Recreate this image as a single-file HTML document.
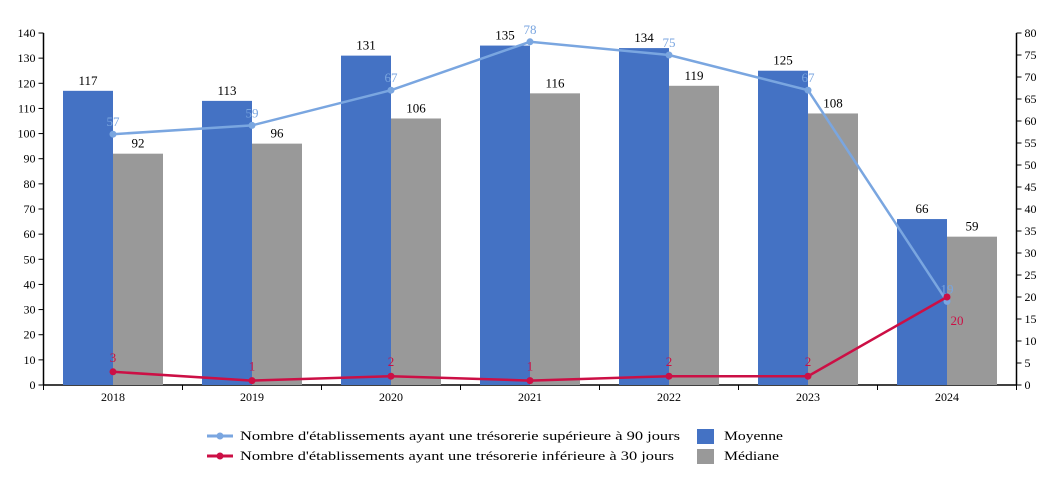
<!DOCTYPE html>
<html><head><meta charset="utf-8"><style>
body{margin:0;background:#fff;width:1056px;height:476px;overflow:hidden}
svg{font-family:"Liberation Serif",serif;font-size:12px}
</style></head><body>
<svg id="chart" width="1056" height="476" xmlns="http://www.w3.org/2000/svg"></svg>
<script>
const years=["2018","2019","2020","2021","2022","2023","2024"];
const moyenne=[117,113,131,135,134,125,66];
const mediane=[92,96,106,116,119,108,59];
const sup90=[57,59,67,78,75,67,19];
const inf30=[3,1,2,1,2,2,20];
const leftTicks=[0,10,20,30,40,50,60,70,80,90,100,110,120,130,140];
const rightTicks=[0,5,10,15,20,25,30,35,40,45,50,55,60,65,70,75,80];

const svg=document.getElementById('chart');
const NS="http://www.w3.org/2000/svg";
const X0=43.5,X1=1016.5,Y0=385,Y1=33;
const band=(X1-X0)/years.length;
const xc=i=>X0+band*(i+0.5);
const yL=v=>Y0-(v/140)*(Y0-Y1);
const yR=v=>Y0-(v/80)*(Y0-Y1);
function mk(tag,attrs,parent){const e=document.createElementNS(NS,tag);for(const k in attrs)e.setAttribute(k,attrs[k]);(parent||svg).appendChild(e);return e;}
function txt(s,attrs,parent){const e=mk('text',attrs,parent);e.textContent=s;return e;}

const axL=mk('g',{});


mk('line',{x1:X0,y1:Y1,x2:X0,y2:Y0,stroke:'#000','stroke-width':1.5},axL);
leftTicks.forEach(t=>{mk('line',{x1:X0-5,x2:X0,y1:yL(t),y2:yL(t),stroke:'#000'},axL);
 const l=txt(String(t),{x:X0-8,y:yL(t)+4,'text-anchor':'end'},axL);
 
 });
const axR=mk('g',{});


mk('line',{x1:X1,y1:Y1,x2:X1,y2:Y0,stroke:'#000','stroke-width':1.5},axR);
rightTicks.forEach(t=>{mk('line',{x1:X1,x2:X1+5,y1:yR(t),y2:yR(t),stroke:'#000'},axR);
 const l=txt(String(t),{x:X1+8,y:yR(t)+4},axR);
 
 });
const axX=mk('g',{});


mk('line',{x1:X0,y1:Y0,x2:X1,y2:Y0,stroke:'#000','stroke-width':1.5},axX);
for(let i=0;i<=years.length;i++)mk('line',{x1:X0+band*i,x2:X0+band*i,y1:Y0,y2:Y0+5,stroke:'#000'},axX);
years.forEach((y,i)=>{const l=txt(y,{x:xc(i),y:Y0+16,'text-anchor':'middle'},axX);
 
 });

const bw=50;
years.forEach((y,i)=>{
 const b1=mk('rect',{x:xc(i)-bw,y:yL(moyenne[i]),width:bw,height:Y0-yL(moyenne[i]),fill:'#4472c4'});
 
 
 const b2=mk('rect',{x:xc(i),y:yL(mediane[i]),width:bw,height:Y0-yL(mediane[i]),fill:'#999999'});
 
 
 const l1=txt(String(moyenne[i]),{x:xc(i)-bw/2,y:yL(moyenne[i])-6,'text-anchor':'middle','font-size':13});
 
 
 const l2=txt(String(mediane[i]),{x:xc(i)+bw/2,y:yL(mediane[i])-6,'text-anchor':'middle','font-size':13});
 
 
});

function line(data,color,name,labelDy){
 const p=mk('polyline',{points:data.map((v,i)=>xc(i)+','+yR(v)).join(' '),fill:'none',stroke:color,'stroke-width':2.5});
 
 
 data.forEach((v,i)=>{
  const c=mk('circle',{cx:xc(i),cy:yR(v),r:3.5,fill:color});
  
  
  const last=(i===data.length-1&&name==='inf30');
  const l=txt(String(v),{x:xc(i)+(last?10:0),y:yR(v)+(last?28:labelDy),'text-anchor':'middle',fill:color,'font-size':13});
  
  
 });
}
line(sup90,'#7aa6e0','sup90',-8);
line(inf30,'#cc0f45','inf30',-10);

const lg=mk('g',{});


function legLine(y,color,label,name,len){const g=mk('g',{},lg);
 
 
 mk('line',{x1:207,x2:233,y1:y,y2:y,stroke:color,'stroke-width':3},g);
 mk('circle',{cx:220,cy:y,r:3.5,fill:color},g);
 txt(label,{x:240,y:y+4,'font-size':13,textLength:len,lengthAdjust:'spacingAndGlyphs'},g);}
legLine(436,'#7aa6e0',"Nombre d'établissements ayant une trésorerie supérieure à 90 jours",'legend-sup90',440);
legLine(456,'#cc0f45',"Nombre d'établissements ayant une trésorerie inférieure à 30 jours",'legend-inf30',434);
function legBox(y,color,label,name,len){const g=mk('g',{},lg);
 
 
 mk('rect',{x:697,y:y-7,width:17,height:15,fill:color},g);
 txt(label,{x:724,y:y+4,'font-size':13,textLength:len,lengthAdjust:'spacingAndGlyphs'},g);}
legBox(436,'#4472c4','Moyenne','legend-moyenne',59);
legBox(456,'#999999','Médiane','legend-mediane',55);
</script>
</body></html>
